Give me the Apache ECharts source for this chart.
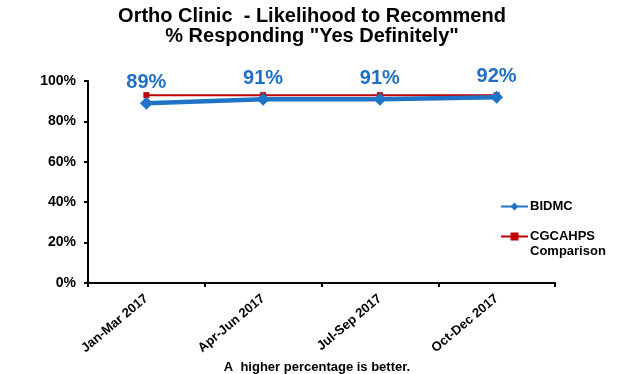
<!DOCTYPE html>
<html>
<head>
<meta charset="utf-8">
<script src="https://cdn.jsdelivr.net/npm/echarts@6/dist/echarts.min.js"></script>
<style>
html,body{margin:0;padding:0;background:#fff;}
#chart{width:620px;height:374px;}
</style>
</head>
<body>
<div id="chart"></div>
<script>
const categories = ['Jan-Mar 2017', 'Apr-Jun 2017', 'Jul-Sep 2017', 'Oct-Dec 2017'];
const bidmc = [89, 91, 91, 92];
const cgcahps = [93, 93, 93, 93];
const yTicks = [0, 20, 40, 60, 80, 100];
const seriesNames = ['BIDMC', 'CGCAHPS Comparison'];

const FONT = 'Liberation Sans, Arial, sans-serif';
const chart = echarts.init(document.getElementById('chart'), null, {renderer: 'canvas'});
chart.setOption({
  backgroundColor: '#ffffff',
  animation: false,
  title: [
    {
      text: 'Ortho Clinic  - Likelihood to Recommend\n% Responding "Yes Definitely"',
      left: 307, top: 1, textAlign: 'center',
      textStyle: {fontFamily: FONT, fontWeight: 'bold', fontSize: 20, lineHeight: 20, color: '#000'}
    },
    {
      text: 'A  higher percentage is better.',
      left: 312, top: 356, textAlign: 'center',
      textStyle: {fontFamily: FONT, fontWeight: 'bold', fontSize: 13, color: '#000'}
    }
  ],
  legend: {
    orient: 'vertical',
    left: 500, top: 199,
    padding: 0,
    itemWidth: 27, itemHeight: 10, itemGap: 0,
    data: seriesNames,
    formatter: function (name) {
      return name === seriesNames[1] ? '\nCGCAHPS\nComparison' : name;
    },
    textStyle: {fontFamily: FONT, fontWeight: 'bold', fontSize: 13, lineHeight: 15, color: '#000', padding: [0, 0, 0, -3]}
  },
  grid: {left: 88, right: 65, top: 81, bottom: 91, containLabel: false},
  xAxis: {
    type: 'category',
    data: categories,
    boundaryGap: true,
    axisLine: {lineStyle: {color: '#000', width: 2}},
    axisTick: {show: true, length: 4, lineStyle: {color: '#000', width: 2}},
    axisLabel: {rotate: 40, interval: 0, margin: 14, fontFamily: FONT, fontWeight: 'bold', fontSize: 13, color: '#000'}
  },
  yAxis: {
    type: 'value',
    min: yTicks[0], max: yTicks[yTicks.length - 1], interval: 20,
    splitLine: {show: false},
    axisLine: {show: true, lineStyle: {color: '#000', width: 2}},
    axisTick: {show: true, length: 4, lineStyle: {color: '#000', width: 2}},
    axisLabel: {formatter: '{value}%', margin: 12, fontFamily: FONT, fontWeight: 'bold', fontSize: 14, color: '#000'}
  },
  series: [
    {
      name: seriesNames[1],
      type: 'line',
      data: cgcahps,
      symbol: 'rect', symbolSize: 6,
      lineStyle: {color: '#c00000', width: 2},
      itemStyle: {color: '#c00000'},
      z: 2
    },
    {
      name: seriesNames[0],
      type: 'line',
      data: bidmc,
      symbol: 'diamond', symbolSize: 13,
      lineStyle: {color: '#1f74c8', width: 4.5},
      itemStyle: {color: '#1f74c8'},
      label: {
        show: true, position: 'top', distance: 4,
        formatter: '{c}%',
        fontFamily: FONT, fontWeight: 'bold', fontSize: 20, color: '#1f6fc3'
      },
      z: 3
    }
  ]
});
</script>
</body>
</html>
